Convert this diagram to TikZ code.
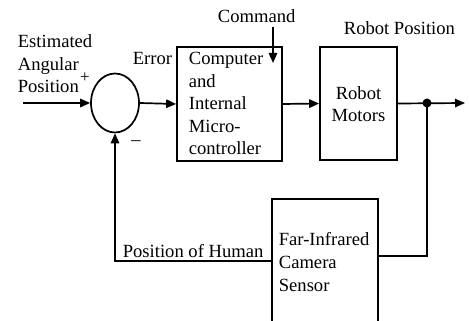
\documentclass[tikz,border=0pt]{standalone}
\usepackage{fontspec}
\setmainfont{Liberation Serif}
\usetikzlibrary{arrows.meta,shapes.geometric}
\begin{document}
\begin{tikzpicture}[x=0.5pt,y=-0.5pt,
  line width=0.85pt,
  >={Triangle[length=5pt,width=4.2pt]},
  txt/.style={font=\fontsize{9.3}{11.3}\selectfont, inner sep=0pt, anchor=base west, align=left},
  blockbox/.style={draw, rectangle, inner sep=0pt},
  sumnode/.style={draw, ellipse, inner sep=0pt, minimum width=24pt, minimum height=29.5pt},
  joint/.style={circle, fill, inner sep=0pt, minimum size=4.5pt}]
\useasboundingbox (0,0) rectangle (469,320);
\clip (0,0) rectangle (469,320);

% blocks
\node[sumnode] (sum) at (115,103) {};
\node[blockbox, minimum width=52.5pt, minimum height=57pt] (comp) at (229.5,104) {};
\node[blockbox, minimum width=38.5pt, minimum height=56.5pt] (motors) at (358.5,103.5) {};
\node[blockbox, minimum width=53pt, minimum height=65.5pt] (camera) at (325,264.5) {};
\node[joint] (dot) at (427,103) {};

% free ends
\coordinate (in) at (23,103);
\coordinate (out) at (465,103);
\coordinate (cmdtop) at (273,27);
\coordinate (cmdend) at (273,63);

% labels (multi-line nodes are placed by the baseline of their last line)
\node[txt] (est) at (17,93) {Estimated\\Angular\\Position};
\node[font=\fontsize{8.5}{9}\selectfont, inner sep=0pt] (plus) at (85,78) {+};
\node[font=\fontsize{9.3}{11.3}\selectfont, inner sep=0pt] (minus) at (136,143) {–};
\node[txt] (err) at (132,65) {Error};
\node[txt] (comptxt) at (188,155) {Computer\\and\\Internal\\Micro-\\controller};
\node[txt] (cmd) at (217,23) {Command};
\node[txt] (rpos) at (343,35) {Robot Position};
\node[txt, anchor=base, align=center] (mottxt) at (358.5,122) {Robot\\Motors};
\node[txt] (poh) at (122,257) {Position of Human};
\node[txt] (camtxt) at (278,291) {Far-Infrared\\Camera\\Sensor};

% connectors
\draw[->] (in) -- (sum.west);
\draw[->] (sum.east) -- (comp.west);
\draw[->] (comp.east) -- (motors.west);
\draw[->] (motors.east) -- (out);
\draw[->] (cmdtop) -- (cmdend);
\draw (dot.center) |- ([yshift=4.25pt]camera.east);
\draw[->] ([yshift=1.75pt]camera.west) -| (sum.south);
\end{tikzpicture}
\end{document}
